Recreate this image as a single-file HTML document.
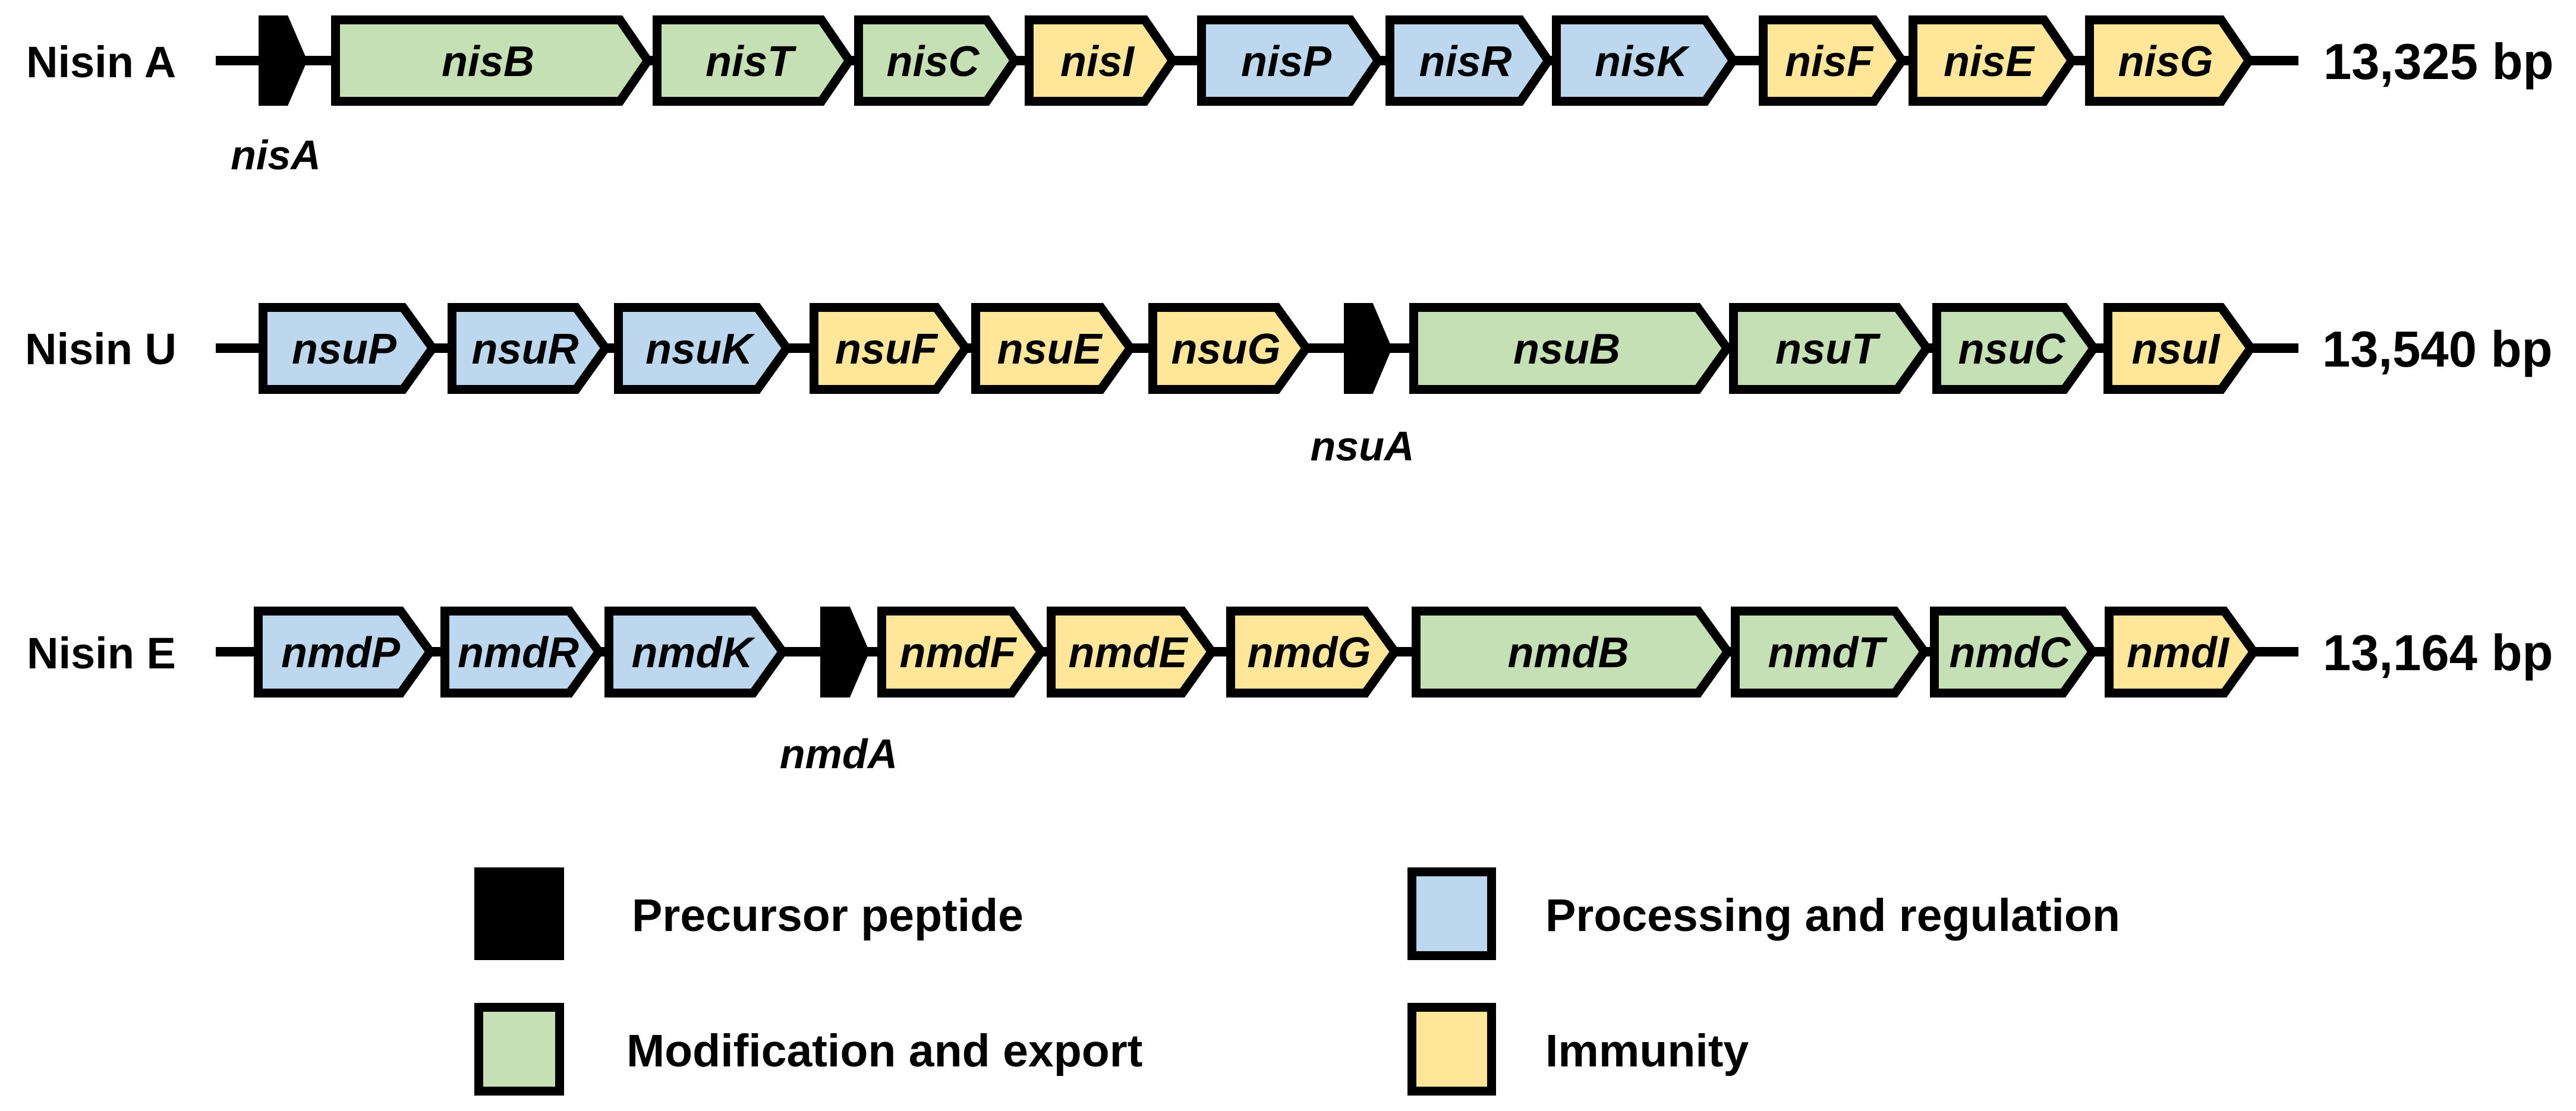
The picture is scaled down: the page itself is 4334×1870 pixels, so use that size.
<!DOCTYPE html>
<html><head><meta charset="utf-8"><style>
html,body{margin:0;padding:0;background:#fff;}
svg{display:block;}
text{font-family:"Liberation Sans",Arial,sans-serif;font-weight:bold;fill:#000;}
</style></head><body>
<svg id="s" width="4334" height="1870" viewBox="0 0 4334 1870" xmlns="http://www.w3.org/2000/svg">
<text x="44" y="130" font-size="74">Nisin A</text>
<text x="3909" y="133" font-size="85">13,325 bp</text>
<text x="464" y="285" font-size="70" font-style="italic" text-anchor="middle">nisA</text>
<text x="42" y="613" font-size="74">Nisin U</text>
<text x="3907" y="617" font-size="85">13,540 bp</text>
<text x="2292" y="775" font-size="70" font-style="italic" text-anchor="middle">nsuA</text>
<text x="45" y="1125" font-size="74">Nisin E</text>
<text x="3908" y="1128" font-size="85">13,164 bp</text>
<text x="1411" y="1293" font-size="70" font-style="italic" text-anchor="middle">nmdA</text>
<g id="g"></g>
<rect x="798" y="1460" width="151" height="156" fill="#000"/>
<rect x="2368" y="1460" width="149" height="156" fill="#000"/>
<rect x="2383" y="1475" width="119" height="126" fill="#bdd7ee"/>
<rect x="798" y="1688" width="151" height="156" fill="#000"/>
<rect x="813" y="1703" width="121" height="126" fill="#c5e0b4"/>
<rect x="2368" y="1688" width="149" height="156" fill="#000"/>
<rect x="2383" y="1703" width="119" height="126" fill="#ffe699"/>
<text x="1063" y="1567" font-size="77">Precursor peptide</text>
<text x="2600" y="1567" font-size="77">Processing and regulation</text>
<text x="1054" y="1795" font-size="77">Modification and export</text>
<text x="2600" y="1795" font-size="77">Immunity</text>
</svg>
<script>
var G="#c5e0b4",B="#bdd7ee",Y="#ffe699",K="#000";
var rows=[
 {T:26,Bt:178,C:102,d:52,genes:[[435,517,K,"nisA"],[557,1099,G,"nisB"],[1098,1438,G,"nisT"],[1437,1716,G,"nisC"],[1724,1982,Y,"nisI"],[2014,2328,B,"nisP"],[2331,2614,B,"nisR"],[2611,2925,B,"nisK"],[2959,3209,Y,"nisF"],[3211,3495,Y,"nisE"],[3508,3793,Y,"nisG"]]},
 {T:510,Bt:663,C:586,d:55,genes:[[435,737,B,"nsuP"],[753,1028,B,"nsuR"],[1033,1333,B,"nsuK"],[1362,1634,Y,"nsuF"],[1634,1911,Y,"nsuE"],[1932,2207,Y,"nsuG"],[2261,2342,K,"nsuA"],[2371,2915,G,"nsuB"],[2909,3251,G,"nsuT"],[3251,3532,G,"nsuC"],[3539,3796,Y,"nsuI"]]},
 {T:1021,Bt:1174,C:1097,d:55,genes:[[427,733,B,"nmdP"],[741,1017,B,"nmdR"],[1017,1326,B,"nmdK"],[1380,1463,K,"nmdA"],[1476,1761,Y,"nmdF"],[1761,2048,Y,"nmdE"],[2063,2356,Y,"nmdG"],[2375,2916,G,"nmdB"],[2912,3247,G,"nmdT"],[3247,3530,G,"nmdC"],[3541,3801,Y,"nmdI"]]}
];
var h="";
rows.forEach(function(r){
 var T=r.T,Bt=r.Bt,C=r.C,hh=(Bt-T)/2;
 h+='<rect x="363" y="'+(C-8)+'" width="'+(3867-363)+'" height="16" fill="#000"/>';
 r.genes.forEach(function(g){
  var x0=g[0],x1=g[1],col=g[2];
  if(col===K){
   var w=x1-x0;
   h+='<polygon fill="#000" points="'+x0+','+T+' '+(x0+w*0.6)+','+T+' '+x1+','+C+' '+(x0+w*0.6)+','+Bt+' '+x0+','+Bt+'"/>';
   return;
  }
  var d=r.d,s=15;
  h+='<polygon fill="#000" points="'+x0+','+T+' '+(x1-d)+','+T+' '+x1+','+C+' '+(x1-d)+','+Bt+' '+x0+','+Bt+'"/>';
  var sh=s*Math.sqrt(d*d+hh*hh)/hh;
  var xt=x1-d+d*(s/hh)-sh;
  h+='<polygon fill="'+col+'" points="'+(x0+s)+','+(T+s)+' '+xt+','+(T+s)+' '+(x1-sh)+','+C+' '+xt+','+(Bt-s)+' '+(x0+s)+','+(Bt-s)+'"/>';
  h+='<text x="'+((x0+x1-14)/2)+'" y="'+(C+26)+'" font-size="72" font-style="italic" text-anchor="middle">'+g[3]+'</text>';
 });
});
document.getElementById("g").innerHTML=h;
</script>
</body></html>
